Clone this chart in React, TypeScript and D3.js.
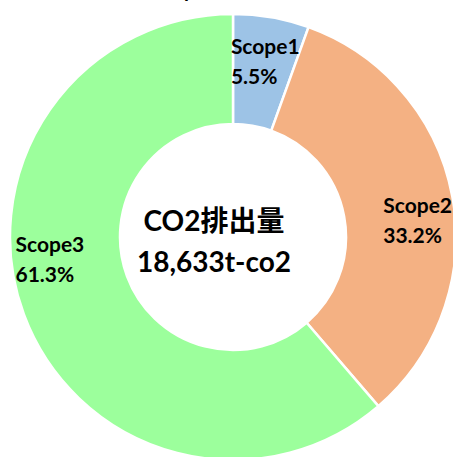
import * as d3 from 'd3'
import { useEffect, useRef } from 'react'

// data
const scopes = ['Scope1', 'Scope2', 'Scope3']
const shares = [5.5, 33.2, 61.3]
const colors = ['#9dc3e6', '#f4b183', '#9cff9c']
const centerLines = ['CO2排出量', '18,633t-co2']
const title = 'Scope別排出量割合'

// label nudges from the slice centroid (x, y) in px
const labelNudge: Record<string, [number, number]> = {
    Scope1: [-31, -18],
    Scope2: [-15, 6],
    Scope3: [-60, -43]
}

const App = () => {
    const ref = useRef<SVGSVGElement>(null)

    useEffect(() => {
        const width = 453
        const height = 457
        const cx = 233
        const cy = 237
        const outer = 223
        const inner = 113
        const font = "Lato, 'Noto Sans CJK JP', sans-serif"

        const svg = d3.select(ref.current)
        svg.selectAll('*').remove()
        svg.attr('width', width).attr('height', height)

        const data = scopes.map((s, i) => ({ name: s, value: shares[i], color: colors[i] }))

        const pie = d3.pie<any>()
            .value(d => d.value)
            .sort(null)

        const arc = d3.arc<any>()
            .innerRadius(inner)
            .outerRadius(outer)

        const labelArc = d3.arc<any>()
            .innerRadius((inner + outer) / 2)
            .outerRadius((inner + outer) / 2)

        // cut-off title at the top
        svg.append('text')
            .attr('x', 152)
            .attr('y', -3)
            .attr('font-family', font)
            .attr('font-weight', 700)
            .attr('font-size', 20)
            .attr('fill', '#000')
            .text(title)

        const g = svg.append('g')
            .attr('transform', `translate(${cx},${cy})`)

        const arcs = pie(data)

        g.selectAll('path')
            .data(arcs)
            .enter()
            .append('path')
            .attr('d', arc)
            .attr('fill', d => d.data.color)
            .attr('stroke', '#fff')
            .attr('stroke-width', 2.5)

        const labels = g.selectAll('text.lbl')
            .data(arcs)
            .enter()
            .append('text')
            .attr('class', 'lbl')
            .attr('font-family', font)
            .attr('font-weight', 700)
            .attr('font-size', 21)
            .attr('fill', '#000')
            .attr('transform', d => {
                const [x, y] = labelArc.centroid(d)
                const [dx, dy] = labelNudge[d.data.name]
                return `translate(${x + dx},${y + dy})`
            })

        labels.append('tspan')
            .attr('x', 0)
            .attr('y', 0)
            .text(d => d.data.name)

        labels.append('tspan')
            .attr('x', 0)
            .attr('y', 30)
            .text(d => `${d.data.value.toFixed(1)}%`)

        // centre text, sits a little left of the hole's centre
        g.selectAll('text.center')
            .data(centerLines)
            .enter()
            .append('text')
            .attr('class', 'center')
            .attr('text-anchor', 'middle')
            .attr('x', -19)
            .attr('y', (_, i) => (i === 0 ? -6 : 35))
            .attr('font-family', font)
            .attr('font-weight', 700)
            .attr('font-size', 28)
            .attr('fill', '#000')
            .text(d => d)
    }, [])

    return (
        <div>
            <style>{'body{margin:0}'}</style>
            <svg ref={ref} style={{ display: 'block' }}></svg>
        </div>
    )
}

export default App
